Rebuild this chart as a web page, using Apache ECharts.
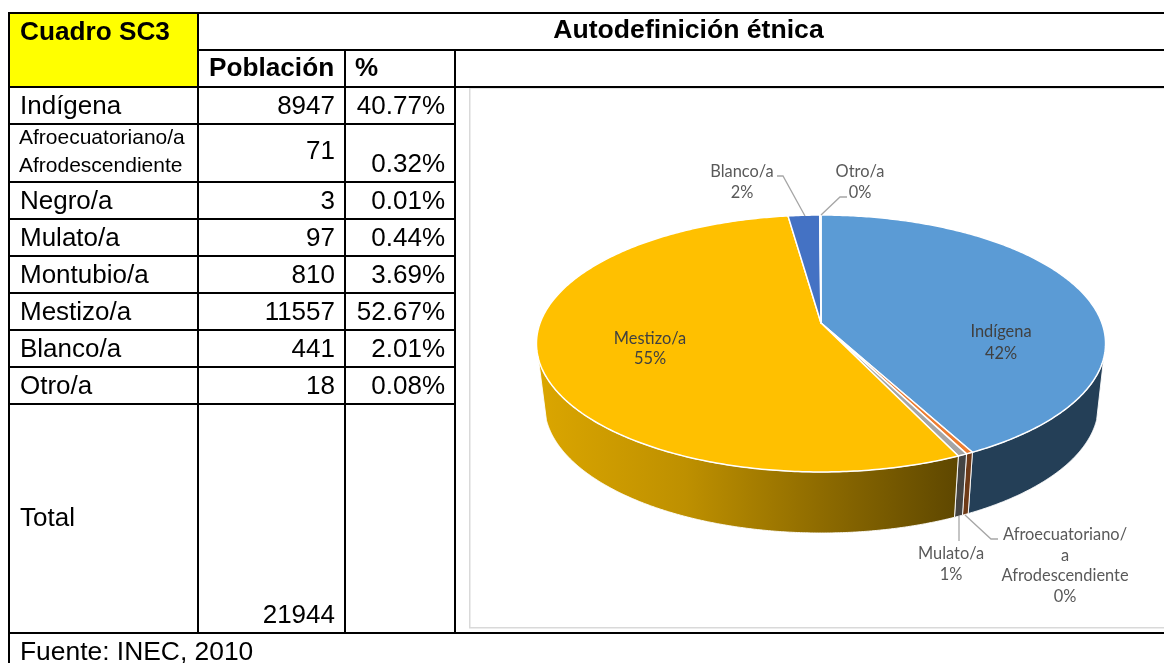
<!DOCTYPE html>
<html>
<head>
<meta charset="utf-8">
<style>html,body{margin:0;padding:0;background:#fff}#c{width:1164px;height:663px}</style>
<script src="https://cdn.jsdelivr.net/npm/echarts@6/dist/echarts.min.js"></script>
</head>
<body>
<div id="c"></div>
<script>
// ---- table data ----
const tableTitle = 'Cuadro SC3';
const tableHeading = 'Autodefinición étnica';
const colHeaders = ['Población', '%'];
const rowNames = ['Indígena', null, 'Negro/a', 'Mulato/a', 'Montubio/a', 'Mestizo/a', 'Blanco/a', 'Otro/a'];
const afroLines = ['Afroecuatoriano/a', 'Afrodescendiente'];
const population = [8947, 71, 3, 97, 810, 11557, 441, 18];
const percents = ['40.77%', '0.32%', '0.01%', '0.44%', '3.69%', '52.67%', '2.01%', '0.08%'];
const totalName = 'Total';
const totalValue = 21944;
const sourceNote = 'Fuente: INEC, 2010';

// ---- pie data ----
const pieNames = ['Indígena', 'Afroecuatoriano/a Afrodescendiente', 'Mulato/a', 'Mestizo/a', 'Blanco/a', 'Otro/a'];
const pieValues = [8947, 71, 97, 11557, 441, 18];
const piePercentText = ['42%', '0%', '1%', '55%', '2%', '0%'];
const topColors = ['#5B9BD5', '#ED7D31', '#A5A5A5', '#FFC000', '#4472C4', '#70AD47'];
const wallColors = ['#243F57', '#6E3A17', '#444444', null, '#2A4478', '#43692B'];

// ---- layout (not data) ----
const A = 280.9, B = 125.2, K = -0.1595, VX = 821, VY = 323;   // perspective of the pie's top face
const ECX = 821.5, ECY = 343.5, ERX = 284.5, ERY = 128;        // top rim ellipse
const BCX = 821.5, BCY = 405, BRX = 277, BRY = 128;            // base rim ellipse
const PHI0 = 6.5 * Math.PI / 180;
const rowY = [107, null, 202, 239, 276, 313, 350, 387];
const FONT = '"Liberation Sans", Arial, sans-serif';
const LFONT = 'Lato, "Open Sans", sans-serif';

const pieTotal = pieValues.reduce((a, b) => a + b, 0);
function project(theta) {
  const u = Math.sin(theta), v = -Math.cos(theta), d = 1 + K * v;
  return [VX + A * u / d, VY + B * v / d];
}
function sliceAngles(i) {
  let s = 0;
  for (let j = 0; j < i; j++) s += pieValues[j];
  return [s / pieTotal * 2 * Math.PI, (s + pieValues[i]) / pieTotal * 2 * Math.PI];
}
function renderTop(params) {
  const [t0, t1] = sliceAngles(params.dataIndex);
  const pts = [[VX, VY]];
  const n = Math.max(2, Math.ceil((t1 - t0) * 90));
  for (let k = 0; k <= n; k++) pts.push(project(t0 + (t1 - t0) * k / n));
  return {
    type: 'polygon', shape: { points: pts },
    style: { fill: topColors[params.dataIndex], stroke: '#fff', lineWidth: 1.5, lineJoin: 'round' }
  };
}
function renderWall(params) {
  const i = params.dataIndex;
  const [t0, t1] = sliceAngles(i);
  const up = [], low = [];
  const n = Math.max(4, Math.ceil((t1 - t0) * 200));
  for (let k = 0; k <= n; k++) {
    const p = project(t0 + (t1 - t0) * k / n);
    const phi = Math.atan2((p[1] - ECY) / ERY, (p[0] - ECX) / ERX);
    if (phi < PHI0 || phi > Math.PI - PHI0) continue;
    up.push(p);
    low.push([BCX + BRX * Math.cos(phi), BCY + BRY * Math.sin(phi)]);
  }
  if (up.length < 2) return { type: 'group', children: [] };
  const fill = wallColors[i] || {
    type: 'linear', x: 0, y: 0, x2: 1, y2: 0,
    colorStops: [
      { offset: 0, color: '#DBA600' }, { offset: 0.35, color: '#BE9000' },
      { offset: 0.7, color: '#8A6800' }, { offset: 1, color: '#5E4700' }
    ]
  };
  return {
    type: 'polygon', shape: { points: up.concat(low.reverse()) },
    style: { fill, stroke: '#fff', lineWidth: 0.9 }
  };
}

// ---- table drawn as graphic elements ----
const els = [];
function rect(x, y, w, h, fill) { els.push({ type: 'rect', shape: { x, y, width: w, height: h }, style: { fill }, silent: true }); }
function txt(text, x, y, size, align, bold) {
  els.push({ type: 'text', silent: true, x, y, style: {
    text: String(text), fill: '#000', align: align || 'left', verticalAlign: 'middle',
    font: (bold ? 'bold ' : '') + size + 'px ' + FONT } });
}
function hline(y, x0, x1) { rect(x0, y - 1, x1 - x0, 2, '#000'); }
function vline(x, y0, y1) { rect(x - 1, y0, 2, y1 - y0, '#000'); }

rect(9, 13, 189, 74, '#FFFF00');
rect(469, 88, 695, 1, '#E4E4E4');
rect(469, 88, 1.5, 540, '#D9D9D9');
rect(469, 627, 695, 1.5, '#D9D9D9');
[124, 182, 219, 256, 293, 330, 367, 404].forEach(y => hline(y, 9, 455));
hline(13, 9, 1164); hline(50, 198, 1164); hline(87, 9, 1164); hline(633, 9, 1164);
vline(9, 12, 663); vline(198, 12, 634); vline(345, 50, 634); vline(455, 50, 634);

txt(tableTitle, 20, 33, 26.2, 'left', true);
txt(tableHeading, 688.5, 31, 26.6, 'center', true);
txt(colHeaders[0], 209, 69, 26.2, 'left', true);
txt(colHeaders[1], 355, 69, 26, 'left', true);
rowNames.forEach((name, i) => {
  if (name) {
    txt(name, 20, rowY[i], 26);
    txt(population[i], 335, rowY[i], 26, 'right');
    txt(percents[i], 445, rowY[i], 26, 'right');
  } else {
    txt(afroLines[0], 19, 138, 21);
    txt(afroLines[1], 19, 166, 21);
    txt(population[i], 335, 152, 26, 'right');
    txt(percents[i], 445, 165, 26, 'right');
  }
});
txt(totalName, 20, 519, 26);
txt(totalValue, 335, 616, 26, 'right');
txt(sourceNote, 20, 653, 26.4);

// ---- leader lines and pie labels ----
function leader(pts) {
  els.push({ type: 'polyline', silent: true, shape: { points: pts }, style: { stroke: '#A6A6A6', lineWidth: 1.3, fill: null } });
}
leader([[777, 176], [783, 176], [805, 216]]);
leader([[847, 197], [840, 197], [821, 215]]);
leader([[959, 516], [959, 541]]);
leader([[965, 515], [991, 539], [998, 539]]);
function plabel(lines, cx, ys, color) {
  lines.forEach((l, k) => els.push({ type: 'text', silent: true, x: cx, y: ys[k], style: {
    text: l, fill: color, align: 'center', verticalAlign: 'middle', font: '16.4px ' + LFONT } }));
}
plabel([pieNames[0], piePercentText[0]], 1001, [332, 354], '#404040');
plabel([pieNames[3], piePercentText[3]], 650, [339, 359], '#404040');
plabel([pieNames[4], piePercentText[4]], 742, [172, 193], '#595959');
plabel([pieNames[5], piePercentText[5]], 860, [172, 193], '#595959');
plabel([pieNames[2], piePercentText[2]], 951, [554, 575], '#595959');
plabel(['Afroecuatoriano/', 'a', 'Afrodescendiente', piePercentText[1]], 1065, [535, 556, 576, 597], '#595959');

const chart = echarts.init(document.getElementById('c'), null, { renderer: 'canvas', width: 1164, height: 663 });
chart.setOption({
  animation: false,
  backgroundColor: '#fff',
  series: [
    { type: 'custom', coordinateSystem: 'none', z: 3, silent: true, renderItem: renderWall,
      data: pieValues.map((v, i) => ({ name: pieNames[i], value: [v] })) },
    { type: 'custom', coordinateSystem: 'none', z: 4, silent: true, renderItem: renderTop,
      data: pieValues.map((v, i) => ({ name: pieNames[i], value: [v] })) }
  ],
  graphic: { elements: els.map(e => Object.assign({ z: 5 }, e)) }
});
</script>
</body>
</html>
